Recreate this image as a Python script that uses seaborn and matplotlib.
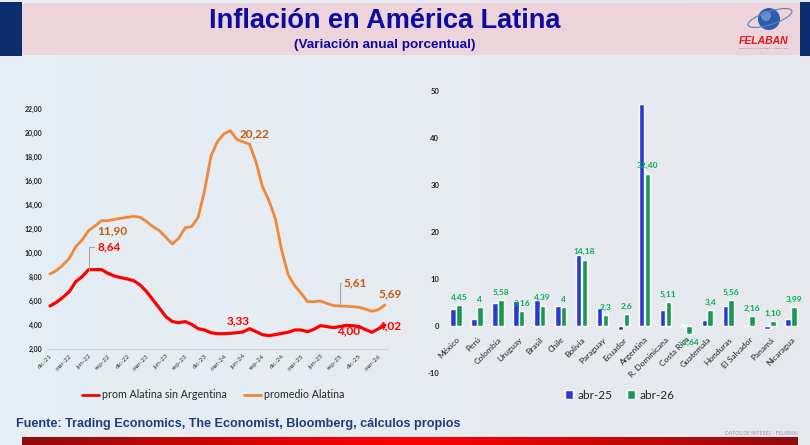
import matplotlib.pyplot as plt
import seaborn as sns
import numpy as np
import pandas as pd
from matplotlib import font_manager
from matplotlib.patches import Rectangle, Circle, Ellipse

# ---- datos panel izquierdo (promedios mensuales) ----
abrev = ["ene", "feb", "mar", "abr", "may", "jun", "jul", "ago", "sep", "oct", "nov", "dic"]
meses = ["dic-21"] + [f"{m}-{a}" for a in ["22", "23", "24", "25"] for m in abrev] + ["ene-26", "feb-26", "mar-26", "abr-26"]

prom_sin_arg = [5.61, 5.92, 6.33, 6.81, 7.64, 8.06, 8.64, 8.64, 8.64, 8.33, 8.11, 7.97, 7.86,
                7.72, 7.36, 6.81, 6.11, 5.42, 4.72, 4.31, 4.22, 4.31, 4.08, 3.72, 3.61,
                3.38, 3.30, 3.30, 3.33, 3.38, 3.45, 3.72, 3.47, 3.22, 3.14, 3.22, 3.33,
                3.42, 3.61, 3.61, 3.47, 3.67, 3.97, 3.89, 3.81, 3.89, 4.00, 3.97, 3.90,
                3.64, 3.42, 3.70, 4.02]
prom_alatina = [8.28, 8.56, 9.03, 9.58, 10.56, 11.11, 11.90, 12.28, 12.72, 12.72, 12.83, 12.92, 13.00,
                13.08, 13.00, 12.64, 12.22, 11.89, 11.33, 10.78, 11.25, 12.14, 12.22, 13.00, 15.20,
                18.10, 19.30, 19.95, 20.22, 19.50, 19.28, 19.10, 17.60, 15.55, 14.40, 12.90, 10.20,
                8.20, 7.30, 6.67, 5.97, 5.97, 6.03, 5.83, 5.65, 5.61, 5.58, 5.55, 5.50,
                5.35, 5.17, 5.30, 5.69]
series_lin = ["prom Alatina sin Argentina", "promedio Alatina"]

# ---- datos panel derecho (por país) ----
paises = ["México", "Perú", "Colombia", "Uruguay", "Brasil", "Chile", "Bolivia", "Paraguay",
          "Ecuador", "Argentina", "R. Dominicana", "Costa Rica", "Guatemala", "Honduras",
          "El Salvador", "Panamá", "Nicaragua"]
abr25 = [3.75, 1.63, 5.02, 5.30, 5.50, 4.40, 15.06, 3.96, -0.70, 47.20, 3.54, 0.35, 1.41, 4.40, 0.0, -0.60, 1.63]
abr26 = [4.45, 4.00, 5.58, 3.16, 4.39, 4.00, 14.18, 2.30, 2.60, 32.40, 5.11, -1.64, 3.40, 5.56, 2.16, 1.10, 3.99]
etiquetas_abr26 = ["4,45", "4", "5,58", "3,16", "4,39", "4", "14,18", "2,3", "2,6", "32,40",
                   "5,11", "-1,64", "3,4", "5,56", "2,16", "1,10", "3,99"]

ROJO = "#FF0000"
NARANJA = "#F0883A"
AZUL = "#0A24EE"
VERDE = "#00B050"

sns.set_style("white")
plt.rcParams["font.family"] = ["Lato", "DejaVu Sans"]
nombres = {f.name for f in font_manager.fontManager.ttflist}
narrow = "Liberation Sans Narrow" if "Liberation Sans Narrow" in nombres else "Liberation Sans"

W, H = 810, 445
fig = plt.figure(figsize=(W / 100, H / 100), dpi=100)

def fx(px):
    return px / W

def fy(py):
    return 1 - py / H

# fondo degradado
bg = fig.add_axes([0, 0, 1, 1], zorder=-10)
gx = np.linspace(0, 1, 200)
c1 = np.array([0.90, 0.935, 0.96])
c2 = np.array([0.905, 0.91, 0.935])
grad = (c1[None, :] * (1 - gx[:, None]) + c2[None, :] * gx[:, None])[None, :, :]
bg.imshow(grad, aspect="auto", extent=[0, 1, 0, 1])
bg.set_xlim(0, 1)
bg.set_ylim(0, 1)
bg.axis("off")

# cabecera
fig.patches.append(Rectangle((fx(22), fy(55)), fx(778), 52 / H, transform=fig.transFigure,
                             facecolor="#EDD3DA", edgecolor="none", zorder=-5))
fig.patches.append(Rectangle((0, fy(56)), fx(22), 54 / H, transform=fig.transFigure,
                             facecolor="#0B2E6E", edgecolor="none", zorder=-5))
fig.patches.append(Rectangle((fx(800), fy(56)), fx(10), 54 / H, transform=fig.transFigure,
                             facecolor="#0B2E6E", edgecolor="none", zorder=-5))
fig.text(fx(385), fy(21), "Inflación en América Latina", ha="center", va="center",
         fontsize=19.5, fontweight="bold", color="#0B0BA0", family=[narrow, "DejaVu Sans"])
fig.text(fx(385), fy(45), "(Variación anual porcentual)", ha="center", va="center",
         fontsize=9.7, fontweight="bold", color="#0B0BA0", family=[narrow, "DejaVu Sans"])

# logo
logo = fig.add_axes([fx(745), fy(36), fx(50), 32 / H])
logo.set_xlim(0, 50)
logo.set_ylim(0, 32)
logo.add_patch(Circle((24, 17), 11, facecolor="#2B5CB0", edgecolor="none"))
logo.add_patch(Circle((21, 20), 5, facecolor="#7FA6DC", edgecolor="none", alpha=0.7))
logo.add_patch(Ellipse((25, 18), 46, 13, angle=18, facecolor="none", edgecolor="#5B7FC2", lw=0.8))
logo.axis("off")
fig.text(fx(764), fy(41), "FELABAN", ha="center", va="center", fontsize=7.5,
         fontweight="bold", style="italic", color="#E3141C", family=["Liberation Sans", "DejaVu Sans"])
fig.text(fx(764), fy(48), "FEDERACIÓN LATINOAMERICANA DE BANCOS", ha="center", va="center",
         fontsize=1.6, color="#777777")

# ---- panel izquierdo ----
ax1 = fig.add_axes([fx(46.8), fy(349.3), fx(341.2), 240 / H])
ax1.patch.set_alpha(0)
idx = list(range(len(meses)))
df_lin = pd.DataFrame({
    "idx": idx + idx,
    "valor": prom_sin_arg + prom_alatina,
    "serie": [series_lin[0]] * len(idx) + [series_lin[1]] * len(idx),
})
sns.lineplot(data=df_lin, x="idx", y="valor", hue="serie", hue_order=series_lin,
             palette=[ROJO, NARANJA], linewidth=2.0, ax=ax1)
ax1.lines[0].set_linewidth(2.3)
ax1.set_xlim(-0.5, len(meses) - 0.5)
ax1.set_ylim(2, 22)
ax1.set_yticks(np.arange(2, 23, 2))
ax1.set_yticklabels([f"{v:.2f}".replace(".", ",") for v in np.arange(2, 23, 2)],
                    fontsize=5, fontweight="bold", color="#222222")
ax1.set_xticks(idx[::3])
ax1.set_xticklabels(meses[::3], rotation=45, ha="right", rotation_mode="anchor",
                    fontsize=4.6, color="#333333")
ax1.tick_params(axis="both", length=0)
ax1.tick_params(axis="y", pad=3)
ax1.tick_params(axis="x", pad=3)
ax1.set_xlabel("")
ax1.set_ylabel("")
for s in ["top", "right", "left"]:
    ax1.spines[s].set_visible(False)
ax1.spines["bottom"].set_color("#D2D2D2")
ax1.spines["bottom"].set_linewidth(0.8)
sns.move_legend(ax1, "center", bbox_to_anchor=(0.487, -0.19), ncol=2, frameon=False,
                title=None, fontsize=7.7, handlelength=1.6, columnspacing=1.6, handletextpad=0.3)

leader = dict(arrowstyle="-", color="#A6A6A6", lw=0.8, shrinkA=0, shrinkB=0,
              connectionstyle="angle,angleA=0,angleB=90,rad=0")
lab_o = dict(color="#C55A11", fontsize=8.5, fontweight="bold", textcoords="offset points")
lab_r = dict(color=ROJO, fontsize=8.5, fontweight="bold", textcoords="offset points")

i = 6
ax1.annotate("11,90", (i, prom_alatina[i]), xytext=(6.5, 0), ha="left", va="center", **lab_o)
ax1.annotate("8,64", (i, prom_sin_arg[i]), xytext=(6.5, 16.5), ha="left", va="center",
             arrowprops=leader, **lab_r)
i = 28
ax1.annotate("20,22", (i, prom_alatina[i]), xytext=(6.5, -2), ha="left", va="center", **lab_o)
i = 45
ax1.annotate("5,61", (i, prom_alatina[i]), xytext=(3, 16.3), ha="left", va="center",
             arrowprops=leader, **lab_o)
i = 52
ax1.annotate("5,69", (i, prom_alatina[i]), xytext=(3.6, 8), ha="center", va="center",
             annotation_clip=False, **lab_o)
i = 29
ax1.annotate("3,33", (i, prom_sin_arg[i]), xytext=(1, 8.3), ha="center", va="center", **lab_r)
i = 46
ax1.annotate("4,00", (i, prom_sin_arg[i]), xytext=(1.5, -4), ha="center", va="center", **lab_r)
i = 52
ax1.annotate("4,02", (i, prom_sin_arg[i]), xytext=(3.6, -0.7), ha="center", va="center",
             annotation_clip=False, **lab_r)

# ---- panel derecho ----
ax2 = fig.add_axes([fx(445.5), fy(373.3), fx(356), 282.3 / H])
ax2.patch.set_alpha(0)
df_bar = pd.DataFrame({
    "pais": paises + paises,
    "valor": abr25 + abr26,
    "serie": ["abr-25"] * len(paises) + ["abr-26"] * len(paises),
})
sns.barplot(data=df_bar, x="pais", y="valor", hue="serie", palette=[AZUL, VERDE],
            width=0.56, gap=0.06, ax=ax2)
ax2.bar_label(ax2.containers[1], labels=etiquetas_abr26, padding=3.2, fontsize=6,
              fontweight="bold", color=VERDE)
ax2.set_xlim(-0.5, len(paises) - 0.5)
ax2.set_ylim(-10, 50)
ax2.set_yticks(np.arange(-10, 51, 10))
ax2.set_yticklabels([str(v) for v in np.arange(-10, 51, 10)], fontsize=5.5,
                    fontweight="bold", color="#222222")
ax2.spines["bottom"].set_position(("data", 0))
for s in ["top", "right", "left", "bottom"]:
    ax2.spines[s].set_visible(False)
ax2.set_xticks(range(len(paises)))
ax2.set_xticklabels(paises, rotation=45, ha="right", rotation_mode="anchor",
                    fontsize=6, color="#222222")
ax2.tick_params(axis="both", length=0)
ax2.tick_params(axis="x", pad=7)
ax2.tick_params(axis="y", pad=4.5)
ax2.set_xlabel("")
ax2.set_ylabel("")
sns.move_legend(ax2, "center", bbox_to_anchor=(0.49, -0.077), ncol=2, frameon=False,
                title=None, fontsize=8.5, handlelength=0.7, handleheight=0.9,
                columnspacing=1.2, handletextpad=0.4)

# ---- pie ----
fig.text(fx(16), fy(424), "Fuente: Trading Economics, The Economist, Bloomberg, cálculos propios",
         ha="left", va="center", fontsize=9.1, fontweight="bold", color="#1F3C7C",
         family=[narrow, "DejaVu Sans"])
fig.text(fx(798), fy(433), "DATOS DE INTERÉS - FELABAN", ha="right", va="center",
         fontsize=3.6, color="#9A9A9A")
barra = fig.add_axes([fx(22), 0, fx(776), 8 / H])
t = np.linspace(-1, 1, 300)
rojo = np.array([1.0, 0.0, 0.0])
oscuro = np.array([0.55, 0.05, 0.05])
mezcla = np.abs(t)[:, None] ** 1.2
barra.imshow((rojo * (1 - mezcla) + oscuro * mezcla)[None, :, :], aspect="auto")
barra.axis("off")

fig.savefig("out.png", dpi=100)
